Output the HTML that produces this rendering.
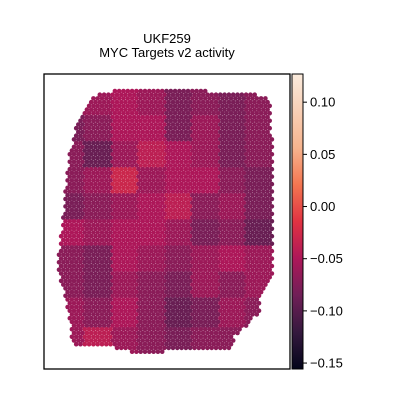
<!DOCTYPE html>
<html><head><meta charset="utf-8"><style>
body{margin:0;background:#fff;}
svg{font-family:"Liberation Sans","DejaVu Sans",sans-serif;}
</style></head><body>
<svg id="c" width="400" height="400" viewBox="0 0 400 400" xmlns="http://www.w3.org/2000/svg">
<defs>
<linearGradient id="rocket" x1="0" y1="1" x2="0" y2="0">
<stop offset="0" stop-color="#03051a"/><stop offset="0.125" stop-color="#35193e"/>
<stop offset="0.25" stop-color="#701f57"/><stop offset="0.375" stop-color="#ae1759"/>
<stop offset="0.5" stop-color="#e13342"/><stop offset="0.625" stop-color="#f37651"/>
<stop offset="0.75" stop-color="#f6b48e"/><stop offset="1" stop-color="#faebdd"/>
</linearGradient>
<clipPath id="tissue"><polygon id="poly" points=""/></clipPath>
</defs>
<text x="167" y="43" text-anchor="middle" font-size="13">UKF259</text>
<text x="167" y="57" text-anchor="middle" font-size="13">MYC Targets v2 activity</text>
<g id="spots"></g>
<rect x="44" y="74" width="246" height="295" fill="none" stroke="#000" stroke-width="1.3"/>
<rect x="292" y="74" width="11" height="295" fill="url(#rocket)" stroke="#000" stroke-width="1"/>
<g id="cbticks"></g>
</svg>
<script>
const tickValues=[0.10,0.05,0.00,-0.05,-0.10,-0.15];
const tickLabels=["0.10","0.05","0.00","\u22120.05","\u22120.10","\u22120.15"];
const vmin=-0.1557, vmax=0.127;
const valueGrid=[
[-0.07,-0.06,-0.05,-0.06,-0.08,-0.07,-0.08,-0.07],
[-0.08,-0.07,-0.05,-0.05,-0.08,-0.06,-0.08,-0.07],
[-0.07,-0.09,-0.06,-0.04,-0.05,-0.06,-0.08,-0.07],
[-0.07,-0.06,-0.03,-0.06,-0.05,-0.05,-0.07,-0.08],
[-0.08,-0.07,-0.06,-0.05,-0.04,-0.07,-0.06,-0.08],
[-0.05,-0.06,-0.05,-0.05,-0.06,-0.08,-0.07,-0.09],
[-0.07,-0.08,-0.05,-0.06,-0.07,-0.06,-0.05,-0.06],
[-0.07,-0.08,-0.06,-0.07,-0.08,-0.06,-0.07,-0.06],
[-0.06,-0.07,-0.05,-0.07,-0.09,-0.08,-0.06,-0.07],
[-0.06,-0.04,-0.06,-0.07,-0.08,-0.07,-0.07,-0.07]];
const outline=[[89,99],[97,94],[124,89],[251,92],[271,99],[272,144],[272,274],[262,291],[259,314],[234,337],[231,351],[131,352],[111,347],[72,344],[71,324],[61,281],[57,267],[61,234],[69,157],[76,124]];
const NS="http://www.w3.org/2000/svg";
const yScale=v=>74+(vmax-v)/(vmax-vmin)*295;
const stops=[[0,[3,5,26]],[0.125,[53,25,62]],[0.25,[112,31,87]],[0.375,[174,23,89]],[0.5,[225,51,66]],[0.625,[243,118,81]],[0.75,[246,180,142]],[1,[250,235,221]]];
function cmap(v){let t=Math.max(0,Math.min(1,(v-vmin)/(vmax-vmin)));
for(let i=1;i<stops.length;i++){if(t<=stops[i][0]){const a=stops[i-1],b=stops[i];const f=(t-a[0])/(b[0]-a[0]);
return 'rgb('+a[1].map((c,k)=>Math.round(c+(b[1][k]-c)*f)).join(',')+')';}}return 'rgb(250,235,221)';}
const poly=document.getElementById('poly');
poly.setAttribute('points',outline.map(p=>p.join(',')).join(' '));
function inside(x,y){let c=false;for(let i=0,j=outline.length-1;i<outline.length;j=i++){const [xi,yi]=outline[i],[xj,yj]=outline[j];
if(((yi>y)!=(yj>y))&&(x<(xj-xi)*(y-yi)/(yj-yi)+xi))c=!c;}return c;}
const g=document.getElementById('spots');
const x0=57,x1=272,y0=89,y1=352,sp=4.3,rows=valueGrid.length,cols=valueGrid[0].length;
let r=0;
for(let y=y0+2;y<y1;y+=sp*0.866,r++){
 for(let x=x0+2+(r%2)*sp/2;x<x1;x+=sp){
  if(!inside(x,y))continue;
  const ci=Math.min(cols-1,Math.floor((x-x0)/(x1-x0)*cols));
  const ri=Math.min(rows-1,Math.floor((y-y0)/(y1-y0)*rows));
  const c=document.createElementNS(NS,'circle');
  c.setAttribute('cx',x.toFixed(1));c.setAttribute('cy',y.toFixed(1));c.setAttribute('r','2.3');
  c.setAttribute('fill',cmap(valueGrid[ri][ci]));
  
  
  g.appendChild(c);
 }
}
const tg=document.getElementById('cbticks');
tickValues.forEach((v,i)=>{const y=yScale(v);
 const l=document.createElementNS(NS,'line');
 l.setAttribute('x1',303);l.setAttribute('x2',307);l.setAttribute('y1',y);l.setAttribute('y2',y);l.setAttribute('stroke','#000');
 
 
 tg.appendChild(l);
 const t=document.createElementNS(NS,'text');
 t.setAttribute('x',310);t.setAttribute('y',y+4.5);t.setAttribute('font-size','13');t.textContent=tickLabels[i];
 
 
 tg.appendChild(t);
});
</script>
</body></html>
